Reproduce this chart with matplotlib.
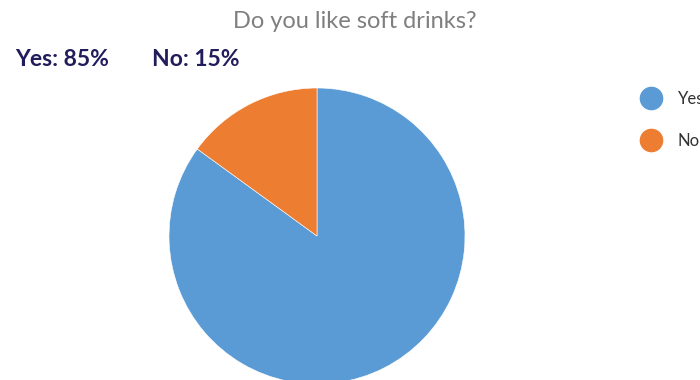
import matplotlib.pyplot as plt
from matplotlib.lines import Line2D

labels = ["Yes", "No"]
shares = [85, 15]
colors = ["#5B9BD5", "#ED7D31"]
title = "Do you like soft drinks?"

plt.rcParams['font.family'] = ['Lato', 'DejaVu Sans']

fig = plt.figure(figsize=(7, 3.8), dpi=100)
ax = fig.add_axes([0, 0, 1, 1])
ax.set_xlim(0, 700)
ax.set_ylim(0, 380)
ax.set_aspect('equal')
ax.axis('off')

ax.pie(shares, colors=colors, startangle=90, counterclock=False,
       center=(317, 144), radius=148,
       wedgeprops=dict(edgecolor='white', linewidth=0.4))
ax.set_xlim(0, 700)
ax.set_ylim(0, 380)

fig.text(355 / 700, 1 - 22 / 380, title, ha='center', va='center',
         fontsize=17, color='#7f7f7f')

summary = [f"{l}: {v}%" for l, v in zip(labels, shares)]
for x, s in zip([15, 152], summary):
    fig.text(x / 700, 1 - 60 / 380, s, ha='left', va='center',
             fontsize=16.5, fontweight='bold', color='#211c5a')

handles = [Line2D([], [], marker='o', linestyle='', markersize=16,
                  markerfacecolor=c, markeredgecolor=c) for c in colors]
fig.legend(handles, labels, loc='upper left',
           bbox_to_anchor=(636 / 700, 1 - 84 / 380), frameon=False,
           fontsize=12, labelcolor='#333333', labelspacing=1.55,
           handletextpad=1.1, handlelength=1.0, borderaxespad=0)

fig.savefig('out.png', dpi=100)
